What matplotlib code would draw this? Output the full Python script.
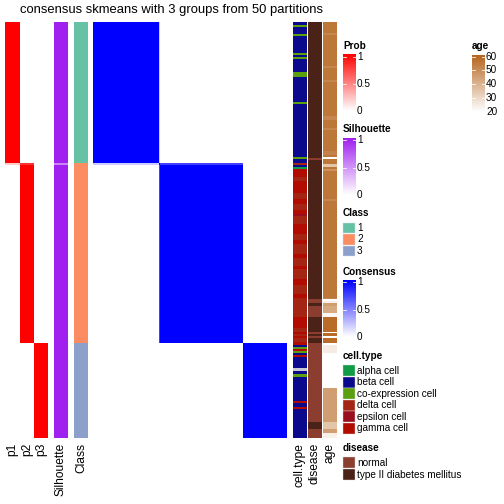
import numpy as np
import matplotlib
matplotlib.use("Agg")
import matplotlib.pyplot as plt
from matplotlib.colors import LinearSegmentedColormap, ListedColormap

plt.rcParams['font.family'] = ['Liberation Sans', 'DejaVu Sans']

nan = np.nan

# ---- data (run lengths, samples in heatmap order) ----
class_runs = [(1, 141), (2, 180), (3, 95)]
p1_runs = [(1.0, 141), (0.2, 2), (0.0, 273)]
p2_runs = [(0.0, 141), (0.8, 2), (1.0, 178), (0.0, 95)]
p3_runs = [(0.0, 321), (1.0, 95)]
silhouette_runs = [(1.0, 141), (0.55, 2), (1.0, 273)]

# two samples sit between class 1 and class 2
boundary_samples = [141, 142]
boundary_consensus = {1: 0.2, 2: 0.75}

celltype_runs = [
    ("beta cell", 3), ("co-expression cell", 2), ("beta cell", 7), ("co-expression cell", 2),
    ("beta cell", 17), ("co-expression cell", 2), ("beta cell", 2), ("co-expression cell", 2),
    ("beta cell", 13), ("co-expression cell", 5), ("beta cell", 25), ("co-expression cell", 2),
    ("beta cell", 53), ("co-expression cell", 2), ("beta cell", 4),
    ("delta cell", 2), ("beta cell", 2), ("alpha cell", 2),
    ("gamma cell", 8), ("delta cell", 4), ("gamma cell", 12), ("delta cell", 6), ("gamma cell", 5),
    ("delta cell", 6), ("gamma cell", 4), ("epsilon cell", 2), ("delta cell", 8), ("gamma cell", 10),
    ("delta cell", 6), ("gamma cell", 4), ("delta cell", 10), ("gamma cell", 4), ("delta cell", 8),
    ("gamma cell", 3), ("delta cell", 10), ("gamma cell", 6), ("delta cell", 9),
    ("gamma cell", 4), ("delta cell", 19), ("gamma cell", 11), ("delta cell", 4), ("gamma cell", 2),
    ("delta cell", 2), ("gamma cell", 2), ("delta cell", 4), ("gamma cell", 3),
    ("beta cell", 2), ("co-expression cell", 2), ("gamma cell", 2), ("co-expression cell", 2),
    ("beta cell", 2), ("gamma cell", 2), ("beta cell", 11), ("NA", 3), ("beta cell", 3),
    ("co-expression cell", 3), ("beta cell", 24), ("gamma cell", 2), ("beta cell", 4),
    ("gamma cell", 2), ("beta cell", 29),
]

disease_runs = [
    ("type II", 136), ("normal", 2), ("type II", 139), ("normal", 4), ("type II", 3),
    ("normal", 11), ("type II", 15), ("normal", 2), ("type II", 2), ("normal", 2),
    ("type II", 5), ("normal", 79), ("type II", 7), ("normal", 9),
]

age_runs = [
    (55, 11), (51, 2), (55, 31), (51, 2), (55, 12), (51, 2), (55, 34), (51, 4), (55, 8), (51, 2),
    (55, 21), (52, 4), (55, 2), (nan, 2), (55, 5), (35, 3), (55, 2), (48, 2), (55, 28), (51, 2),
    (55, 97), (52, 1), (nan, 2), (24, 2), (45, 3), (42, 7), (22, 4), (58, 15), (nan, 1), (58, 3),
    (nan, 2), (58, 5), (nan, 2), (25, 8), (nan, 35), (45, 34), (35, 7), (45, 4), (24, 5),
]

celltype_names = ["alpha cell", "beta cell", "co-expression cell", "delta cell", "epsilon cell", "gamma cell"]
celltype_colors = ["#109B45", "#0B0A8C", "#5BA00E", "#A52515", "#9A0F20", "#B20C00"]
disease_names = ["normal", "type II diabetes mellitus"]
disease_colors = ["#8B3E2F", "#4A2218"]
class_colors = ["#66C2A5", "#FC8D62", "#8DA0CB"]


def expand(runs):
    return np.array([v for v, n in runs for _ in range(n)])


cls = expand(class_runs)
p1 = expand(p1_runs).astype(float)
p2 = expand(p2_runs).astype(float)
p3 = expand(p3_runs).astype(float)
sil = expand(silhouette_runs).astype(float)
ctype = expand(celltype_runs)
disease = expand(disease_runs)
age = expand(age_runs).astype(float)

cons = (cls[:, None] == cls[None, :]).astype(float)
for s in boundary_samples:
    for k, v in boundary_consensus.items():
        cons[s, cls == k] = v
        cons[cls == k, s] = v
for s in boundary_samples:
    cons[s, boundary_samples] = 1.0

# ---- colour maps ----
red_cm = LinearSegmentedColormap.from_list("prob", ["#FFFFFF", "#FF0000"])
sil_cm = LinearSegmentedColormap.from_list("sil", ["#FFFFFF", "#A020F0"])
cons_cm = LinearSegmentedColormap.from_list("cons", ["#FFFFFF", "#0000FF"])
age_cm = LinearSegmentedColormap.from_list("age", ["#FFFFFF", "#B5651D"])
age_cm.set_bad("#FFFFFF")

fig = plt.figure(figsize=(7, 7), dpi=72)
ax = fig.add_axes([0, 0, 1, 1])

top, bottom = 22.5, 438.3


def column(vals, x0, x1, cmap, vmin=0, vmax=1):
    ax.imshow(vals[:, None], extent=[x0, x1, bottom, top], aspect='auto',
              interpolation='nearest', cmap=cmap, vmin=vmin, vmax=vmax)


column(p1, 5, 20, red_cm)
column(p2, 20, 34, red_cm)
column(p3, 34, 48, red_cm)
column(sil, 54, 68, sil_cm)
column(cls - 1, 74, 88, ListedColormap(class_colors), 0, 2)

ax.imshow(cons, extent=[93, 287, bottom, top], aspect='auto',
          interpolation='nearest', cmap=cons_cm, vmin=0, vmax=1)

ct_codes = np.array([celltype_names.index(c) if c in celltype_names else 6 for c in ctype])
column(ct_codes, 293, 307, ListedColormap(celltype_colors + ["#C8C8D2"]), 0, 6)
dz_codes = np.array([0 if d == "normal" else 1 for d in disease])
column(dz_codes, 308, 322, ListedColormap(disease_colors), 0, 1)
column(np.ma.masked_invalid(age), 323, 337, age_cm, 20, 60)

# column names below the heatmap
col_labels = [("p1", 12.5), ("p2", 27), ("p3", 41), ("Silhouette", 61), ("Class", 81),
              ("cell.type", 300), ("disease", 315), ("age", 330)]
for lab, x in col_labels:
    ax.text(x, 443, lab, rotation=90, ha='center', va='top', fontsize=12)

ax.text(171.5, 10, "consensus skmeans with 3 groups from 50 partitions",
        ha='center', va='center', fontsize=13)


# ---- legends ----
def bar_legend(x, y_title, y0, y1, cmap, labels, title):
    ax.text(x, y_title, title, fontsize=10, fontweight='bold', va='center', ha='left')
    grad = np.linspace(1, 0, 100)[:, None]
    ax.imshow(grad, extent=[x, x + 12.5, y1, y0], aspect='auto', cmap=cmap, vmin=0, vmax=1)
    ys = np.linspace(y0 + 1.5, y1, len(labels))
    for lab, yy in zip(labels, ys):
        ax.text(x + 14, yy, lab, fontsize=10, va='center', ha='left')
        ax.plot([x, x + 2.5], [yy, yy], color='white', lw=0.8)
        ax.plot([x + 10, x + 12.5], [yy, yy], color='white', lw=0.8)


def swatch_legend(x, y_title, y_first, names, colors, title, step=11.5):
    ax.text(x, y_title, title, fontsize=10, fontweight='bold', va='center', ha='left')
    for i, (nm, c) in enumerate(zip(names, colors)):
        yc = y_first + i * step
        ax.add_patch(plt.Rectangle((x, yc - 5.3), 11.5, 10.6, facecolor=c, edgecolor='#E0E0E0', lw=0.4))
        ax.text(x + 14, yc, nm, fontsize=10, va='center', ha='left')


bar_legend(343, 45.7, 55, 111.5, red_cm, ["1", "0.5", "0"], "Prob")
bar_legend(343, 129.3, 138.5, 195.5, sil_cm, ["1", "0.5", "0"], "Silhouette")
swatch_legend(343, 213.3, 228, ["1", "2", "3"], class_colors, "Class", step=11.4)
bar_legend(343, 271.7, 280.5, 337.5, cons_cm, ["1", "0.5", "0"], "Consensus")
swatch_legend(343, 356, 370.7, celltype_names, celltype_colors, "cell.type", step=11.5)
swatch_legend(343, 448.3, 462.7, disease_names, disease_colors, "disease", step=12)
bar_legend(472, 45.7, 55, 112, age_cm, ["60", "50", "40", "30", "20"], "age")

ax.set_xlim(0, 504)
ax.set_ylim(504, 0)
ax.axis('off')

fig.savefig("out.png", dpi=72)
